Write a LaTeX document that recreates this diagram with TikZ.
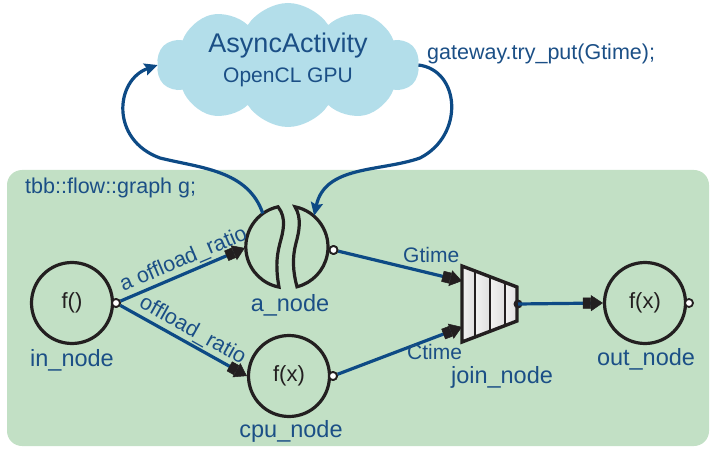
\documentclass[tikz,border=0pt]{standalone}
\usepackage{fontspec}
\setmainfont{Liberation Sans}
\usetikzlibrary{arrows.meta,shapes.symbols,calc}
\definecolor{navy}{HTML}{0D4A85}
\definecolor{txtblue}{HTML}{1B4F86}
\definecolor{bggreen}{HTML}{C2E0C5}
\definecolor{cloudblue}{HTML}{B3DEEA}
\definecolor{ink}{HTML}{231F20}
\begin{document}
\begin{tikzpicture}[x=1pt,y=-1pt,
  fnode/.style={circle,draw=ink,line width=3.2pt,minimum size=81pt,inner sep=0pt,font=\fontsize{22}{24}\selectfont,text=ink},
  lbl/.style={text=txtblue,font=\fontsize{23.5}{26}\selectfont,inner sep=0pt,anchor=base},
  elbl/.style={text=txtblue,font=\fontsize{21.5}{23}\selectfont,inner sep=1.5pt},
  oport/.style={circle,draw=ink,fill=white,line width=1.8pt,minimum size=8pt,inner sep=0pt},
  edge/.style={draw=navy,line width=3.2pt,-{Square[color=ink,fill=ink,length=8pt,width=11pt,line width=0.5pt,sep=0pt]Triangle[color=ink,fill=ink,length=12pt,width=16pt,line width=0.5pt]}},
  fb/.style={draw=navy,line width=3.2pt,-{Stealth[length=13pt,width=12pt,inset=2pt]}},
  piece/.style={draw=ink,line width=3.2pt},
]
\useasboundingbox (0,0) rectangle (711,454);
% graph area
\fill[bggreen,rounded corners=15pt] (7,170) rectangle (709,446);
% cloud
\node[cloud,cloud puffs=10,cloud puff arc=115,aspect=2.1,fill=cloudblue,minimum width=262pt,minimum height=124pt,inner sep=0pt] (cloud) at (288,65) {};
\node[text=txtblue,font=\fontsize{27}{30}\selectfont,anchor=base,inner sep=0pt] (t1) at (288,53) {AsyncActivity};
\node[text=txtblue,font=\fontsize{21}{24}\selectfont,anchor=base,inner sep=0pt] (t2) at (288,83) {OpenCL GPU};
\node[text=txtblue,font=\fontsize{21.5}{24}\selectfont,anchor=base west,inner sep=0pt] (gw) at (427,60) {gateway.try\_put(Gtime);};
\node[text=txtblue,font=\fontsize{21.5}{24}\selectfont,anchor=base west,inner sep=0pt] (gg) at (25,194) {tbb::flow::graph g;};
% nodes
\node[fnode] (in) at (72,303) {f()};
\node[fnode] (cpu) at (289,376) {f(x)};
\node[fnode] (out) at (645,303) {f(x)};
\node[circle,minimum size=84pt,inner sep=0pt] (a) at (287,248) {};
% a_node pieces
\draw[piece] (278,206.8) arc[start angle=-102.4,end angle=-259,radius=41]
  .. controls (276,270) and (276,258) .. (280,243)
  .. controls (283,232) and (287,218) .. (278,206.8) -- cycle;
\draw[piece] (295,206.8) arc[start angle=-78.75,end angle=75.9,radius=41]
  .. controls (293,272) and (292,258) .. (296,243)
  .. controls (299,232) and (302,218) .. (295,206.8) -- cycle;
% join node
\coordinate (jTL) at (462,266);
\coordinate (jTR) at (517,287);
\coordinate (jBR) at (517,321);
\coordinate (jBL) at (462,342);
\coordinate (jin1) at (462,281);
\coordinate (jin2) at (462,327);
\coordinate (jout) at (518,304);
\begin{scope}
  \clip (jTL) -- (jTR) -- (jBR) -- (jBL) -- cycle;
  \fill[white] (458,260) rectangle (522,350);
  \foreach \p/\q in {462/475,475/490,490/505,505/517}
    \shade[left color=gray!10,middle color=white,right color=gray!25] (\p,260) rectangle (\q,350);
  \foreach \x in {475,490,505}
    \draw[ink,line width=2.6pt] (\x,260) -- (\x,350);
\end{scope}
\draw[ink,line width=3.4pt] (jTL) -- (jTR) -- (jBR) -- (jBL) -- cycle;
\fill[ink] (jout) circle (4.5pt);
% ports
\node[oport] (inp) at (116,303) {};
\node[oport] (ap) at (333.5,250) {};
\node[oport] (cpup) at (333,376) {};
\node[oport] (outp) at (689,303) {};
% edges
\draw[edge] (inp) -- (a.west) node[elbl,pos=0.55,sloped,above] {a offload\_ratio};
\draw[edge] (inp) -- (cpu.west) node[elbl,pos=0.52,sloped,above] {offload\_ratio};
\draw[edge] (ap) -- (jin1);
\draw[edge] (cpup) -- (jin2);
\draw[edge] (jout) -- (out.west);
\node[oport] at (inp) {};
\node[oport] at (ap) {};
\node[oport] at (cpup) {};
% feedback
\draw[fb] (a.125) .. controls (248,170) and (200,168) .. (160,158)
  .. controls (110,140) and (115,80) .. (cloud.west);
\draw[fb] (cloud.east) .. controls (460,70) and (465,135) .. (420,158)
  .. controls (380,172) and (325,165) .. (a.50);
% labels
\node[text=txtblue,font=\fontsize{21}{23}\selectfont,anchor=base west,inner sep=0pt] (gl) at (403,262) {Gtime};
\node[text=txtblue,font=\fontsize{21}{23}\selectfont,anchor=base west,inner sep=0pt] (cl) at (407,359) {Ctime};
\node[lbl] (inl) at (72,366) {in\_node};
\node[lbl] (al) at (290,311) {a\_node};
\node[lbl] (cpul) at (291,437) {cpu\_node};
\node[lbl] (jl) at (502,383) {join\_node};
\node[lbl] (outl) at (646,365) {out\_node};
\end{tikzpicture}
\end{document}
